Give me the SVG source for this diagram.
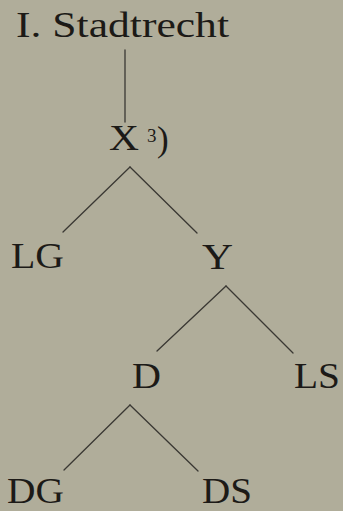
<svg xmlns="http://www.w3.org/2000/svg" width="343" height="511" viewBox="0 0 343 511">
  <style>
    .bg { fill: #b0ad9a; }
    .lbl { font-family: "Liberation Serif", "Times New Roman", serif; font-size: 35px; fill: #1c1a17; }
    .sup { font-size: 19px; }
    .edge { stroke: #3a3833; stroke-width: 1.3; fill: none; stroke-linecap: round; }
  </style>
  <rect class="bg" x="0" y="0" width="343" height="511"/>
  <g id="connectors">
    <line class="edge" x1="125" y1="50" x2="125" y2="122"/>
    <line class="edge" x1="130" y1="167" x2="63" y2="232"/>
    <line class="edge" x1="130" y1="167" x2="197" y2="233"/>
    <line class="edge" x1="226" y1="286" x2="157" y2="351"/>
    <line class="edge" x1="226" y1="286" x2="293" y2="353"/>
    <line class="edge" x1="130" y1="405" x2="64" y2="470"/>
    <line class="edge" x1="130" y1="405" x2="198" y2="471"/>
  </g>
  <g id="node-stadtrecht">
    <text class="lbl" x="16" y="37" textLength="213" lengthAdjust="spacingAndGlyphs">I. Stadtrecht</text>
  </g>
  <g id="node-X">
    <text class="lbl" x="109" y="150" textLength="30" lengthAdjust="spacingAndGlyphs">X</text>
    <text class="lbl sup" x="147" y="142">3</text>
    <text class="lbl" x="157" y="151">)</text>
  </g>
  <g id="node-LG">
    <text class="lbl" x="11" y="268" textLength="53" lengthAdjust="spacingAndGlyphs">LG</text>
  </g>
  <g id="node-Y">
    <text class="lbl" x="202" y="269" textLength="31" lengthAdjust="spacingAndGlyphs">Y</text>
  </g>
  <g id="node-D">
    <text class="lbl" x="132" y="388" textLength="29" lengthAdjust="spacingAndGlyphs">D</text>
  </g>
  <g id="node-LS">
    <text class="lbl" x="294" y="388" textLength="46" lengthAdjust="spacingAndGlyphs">LS</text>
  </g>
  <g id="node-DG">
    <text class="lbl" x="7" y="503" textLength="57" lengthAdjust="spacingAndGlyphs">DG</text>
  </g>
  <g id="node-DS">
    <text class="lbl" x="202" y="503" textLength="50" lengthAdjust="spacingAndGlyphs">DS</text>
  </g>
</svg>
